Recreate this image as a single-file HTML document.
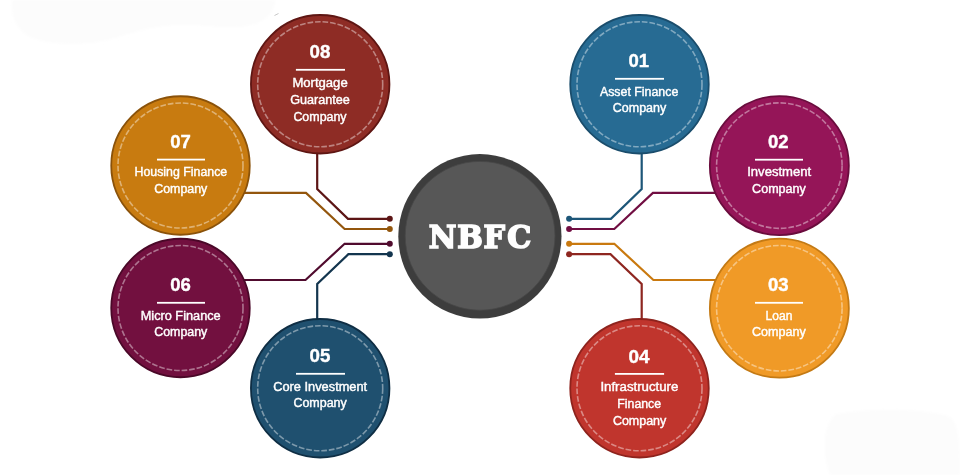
<!DOCTYPE html>
<html lang="en">
<head>
<meta charset="utf-8">
<title>NBFC</title>
<style>
html,body{margin:0;padding:0;background:#fff;}
body{width:960px;height:475px;overflow:hidden;}
svg{display:block;}
.num{font-family:"Liberation Sans",Arial,sans-serif;font-weight:bold;font-size:18.4px;fill:#fff;text-anchor:middle;stroke:#fff;stroke-width:0.4;}
.lbl{font-family:"Liberation Sans",Arial,sans-serif;font-size:12px;fill:#fff;text-anchor:middle;stroke:#fff;stroke-width:0.4;}
.ttl{font-family:"DejaVu Serif Condensed","DejaVu Serif","Liberation Serif",serif;font-weight:bold;font-size:32px;fill:#fff;stroke:#fff;stroke-width:1.6;stroke-linejoin:miter;}
.ln{fill:none;stroke-width:2.2;stroke-linejoin:miter;}
.dash{fill:none;stroke:#fff;stroke-opacity:0.42;stroke-width:1.6;stroke-dasharray:5.7 1.9;}
</style>
</head>
<body>
<svg width="960" height="475" viewBox="0 0 960 475">
<rect width="960" height="475" fill="#ffffff"/>
<defs><filter id="soft" x="-10%" y="-20%" width="120%" height="140%"><feGaussianBlur stdDeviation="1.5"/></filter></defs>
<path d="M12 0 C10 14 16 30 30 37 C50 46 90 46 115 38 C140 30 160 24 190 25 C215 26 235 30 255 24 C268 20 274 10 276 0 Z" fill="#fcfcfc" filter="url(#soft)"/>
<path d="M836 414 C870 408 920 408 948 416 C958 420 960 440 960 475 L830 475 C822 455 822 425 836 414 Z" fill="#fcfcfc" filter="url(#soft)"/>
<path d="M274.5 15.5 L278.5 13.5" stroke="#c8c8c8" stroke-width="1" fill="none"/>

<polyline class="ln" stroke="#5c1515" points="317.2,150.0 317.2,189.0 348.0,218.8 389.8,218.8"/>
<circle cx="389.8" cy="218.8" r="3" fill="#5c1515"/>
<polyline class="ln" stroke="#93560d" points="240.0,192.9 306.0,192.9 344.6,229.0 389.8,229.0"/>
<circle cx="389.8" cy="229.0" r="3" fill="#93560d"/>
<polyline class="ln" stroke="#500b2e" points="240.0,280.0 305.5,280.0 344.6,243.8 389.8,243.8"/>
<circle cx="389.8" cy="243.8" r="3" fill="#500b2e"/>
<polyline class="ln" stroke="#13354e" points="317.2,322.0 317.2,284.0 348.4,254.2 389.8,254.2"/>
<circle cx="389.8" cy="254.2" r="3" fill="#13354e"/>
<polyline class="ln" stroke="#1d5678" points="641.7,150.0 641.7,189.0 610.9,218.8 569.1,218.8"/>
<circle cx="569.1" cy="218.8" r="3" fill="#1d5678"/>
<polyline class="ln" stroke="#710e42" points="718.9,192.9 652.9,192.9 614.3,229.0 569.1,229.0"/>
<circle cx="569.1" cy="229.0" r="3" fill="#710e42"/>
<polyline class="ln" stroke="#c9790f" points="718.9,280.0 653.4,280.0 614.3,243.8 569.1,243.8"/>
<circle cx="569.1" cy="243.8" r="3" fill="#c9790f"/>
<polyline class="ln" stroke="#8e2620" points="641.7,322.0 641.7,284.0 610.5,254.2 569.1,254.2"/>
<circle cx="569.1" cy="254.2" r="3" fill="#8e2620"/>
<g opacity="0.996">
<circle cx="320.2" cy="84.25" r="69.25" fill="#8e2c25" stroke="#5e1613" stroke-width="1.8"/>
<circle class="dash" cx="320.2" cy="84.25" r="62.50"/>
<text class="num" x="320.00" y="57.80" textLength="20.80" lengthAdjust="spacingAndGlyphs">08</text>
<rect x="295.9" y="68.9" width="49.1" height="1.8" fill="#fff"/>
<text class="lbl" x="320.05" y="86.80" textLength="55.30" lengthAdjust="spacingAndGlyphs">Mortgage</text>
<text class="lbl" x="320.05" y="103.80" textLength="59.70" lengthAdjust="spacingAndGlyphs">Guarantee</text>
<text class="lbl" x="320.00" y="120.80" textLength="53.20" lengthAdjust="spacingAndGlyphs">Company</text>
</g>
<g opacity="0.996">
<circle cx="180.5" cy="165.5" r="69.25" fill="#c87b10" stroke="#8a520a" stroke-width="1.8"/>
<circle class="dash" cx="180.5" cy="165.5" r="62.50"/>
<text class="num" x="180.60" y="147.80" textLength="20.60" lengthAdjust="spacingAndGlyphs">07</text>
<rect x="157.0" y="158.7" width="48.0" height="1.8" fill="#fff"/>
<text class="lbl" x="180.85" y="175.60" textLength="92.70" lengthAdjust="spacingAndGlyphs">Housing Finance</text>
<text class="lbl" x="180.75" y="192.50" textLength="53.10" lengthAdjust="spacingAndGlyphs">Company</text>
</g>
<g opacity="0.996">
<circle cx="180.5" cy="308.0" r="69.25" fill="#72103f" stroke="#4a0828" stroke-width="1.8"/>
<circle class="dash" cx="180.5" cy="308.0" r="62.50"/>
<text class="num" x="180.60" y="290.90" textLength="20.60" lengthAdjust="spacingAndGlyphs">06</text>
<rect x="157.0" y="301.9" width="48.0" height="1.8" fill="#fff"/>
<text class="lbl" x="180.70" y="319.60" textLength="80.00" lengthAdjust="spacingAndGlyphs">Micro Finance</text>
<text class="lbl" x="180.75" y="336.10" textLength="53.10" lengthAdjust="spacingAndGlyphs">Company</text>
</g>
<g opacity="0.996">
<circle cx="320.2" cy="388.25" r="69.25" fill="#1f506f" stroke="#0f2e44" stroke-width="1.8"/>
<circle class="dash" cx="320.2" cy="388.25" r="62.50"/>
<text class="num" x="320.00" y="362.30" textLength="20.80" lengthAdjust="spacingAndGlyphs">05</text>
<rect x="296.0" y="372.9" width="49.0" height="1.8" fill="#fff"/>
<text class="lbl" x="320.20" y="390.70" textLength="94.00" lengthAdjust="spacingAndGlyphs">Core Investment</text>
<text class="lbl" x="320.10" y="407.10" textLength="53.40" lengthAdjust="spacingAndGlyphs">Company</text>
</g>
<g opacity="0.996">
<circle cx="639.5" cy="84.25" r="69.25" fill="#276b93" stroke="#1a4d6c" stroke-width="1.8"/>
<circle class="dash" cx="639.5" cy="84.25" r="62.50"/>
<text class="num" x="638.70" y="66.60" textLength="20.60" lengthAdjust="spacingAndGlyphs">01</text>
<rect x="615.0" y="77.9" width="49.0" height="1.8" fill="#fff"/>
<text class="lbl" x="639.10" y="95.50" textLength="78.40" lengthAdjust="spacingAndGlyphs">Asset Finance</text>
<text class="lbl" x="639.50" y="112.10" textLength="53.40" lengthAdjust="spacingAndGlyphs">Company</text>
</g>
<g opacity="0.996">
<circle cx="779.35" cy="165.6" r="69.50" fill="#951558" stroke="#6a0c3d" stroke-width="1.8"/>
<circle class="dash" cx="779.35" cy="165.6" r="62.75"/>
<text class="num" x="778.30" y="147.80" textLength="20.60" lengthAdjust="spacingAndGlyphs">02</text>
<rect x="755.0" y="158.8" width="48.0" height="1.8" fill="#fff"/>
<text class="lbl" x="779.20" y="175.60" textLength="64.00" lengthAdjust="spacingAndGlyphs">Investment</text>
<text class="lbl" x="778.95" y="192.50" textLength="53.70" lengthAdjust="spacingAndGlyphs">Company</text>
</g>
<g opacity="0.996">
<circle cx="779.35" cy="308.2" r="69.50" fill="#f09a27" stroke="#c47a14" stroke-width="1.8"/>
<circle class="dash" cx="779.35" cy="308.2" r="62.75"/>
<text class="num" x="778.30" y="290.90" textLength="20.60" lengthAdjust="spacingAndGlyphs">03</text>
<rect x="755.0" y="301.9" width="48.0" height="1.8" fill="#fff"/>
<text class="lbl" x="779.00" y="319.60" textLength="26.80" lengthAdjust="spacingAndGlyphs">Loan</text>
<text class="lbl" x="778.90" y="336.10" textLength="53.80" lengthAdjust="spacingAndGlyphs">Company</text>
</g>
<g opacity="0.996">
<circle cx="639.5" cy="388.25" r="69.25" fill="#c0352d" stroke="#8e231d" stroke-width="1.8"/>
<circle class="dash" cx="639.5" cy="388.25" r="62.50"/>
<text class="num" x="638.90" y="362.80" textLength="21.00" lengthAdjust="spacingAndGlyphs">04</text>
<rect x="614.9" y="373.0" width="49.2" height="1.8" fill="#fff"/>
<text class="lbl" x="639.40" y="390.80" textLength="78.00" lengthAdjust="spacingAndGlyphs">Infrastructure</text>
<text class="lbl" x="639.20" y="407.80" textLength="43.80" lengthAdjust="spacingAndGlyphs">Finance</text>
<text class="lbl" x="639.60" y="424.80" textLength="53.40" lengthAdjust="spacingAndGlyphs">Company</text>
</g>
<ellipse cx="479.9" cy="236.3" rx="81.6" ry="82.2" fill="#3d3d3d"/>
<ellipse cx="480.1" cy="235.8" rx="74.9" ry="74.4" fill="#575757" stroke="#484848" stroke-width="0.8"/>
<g opacity="0.996"><text class="ttl" transform="scale(1.050 1)" x="408.29 435.52 460.57 483.14" y="248.3">NBFC</text></g>
</svg>
</body>
</html>
